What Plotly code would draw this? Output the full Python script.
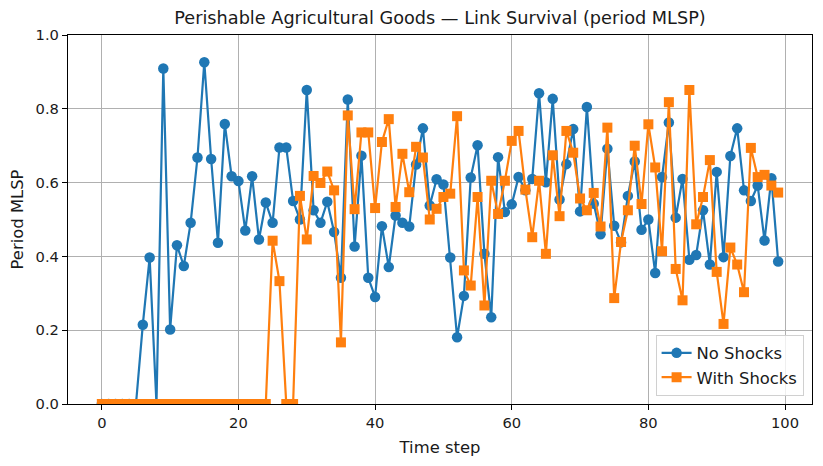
import plotly.graph_objects as go

steps = list(range(100))

no_shocks = [
    0, 0, 0, 0, 0, 0, 0.215, 0.397, 0, 0.909,
    0.202, 0.43, 0.374, 0.491, 0.668, 0.926, 0.664, 0.437, 0.759, 0.617,
    0.604, 0.47, 0.617, 0.446, 0.546, 0.491, 0.695, 0.695, 0.55, 0.50,
    0.851, 0.525, 0.491, 0.548, 0.466, 0.342, 0.825, 0.427, 0.673, 0.342,
    0.29, 0.482, 0.371, 0.511, 0.491, 0.481, 0.649, 0.747, 0.538, 0.609,
    0.595, 0.397, 0.181, 0.293, 0.614, 0.701, 0.407, 0.235, 0.669, 0.52,
    0.541, 0.615, 0.579, 0.61, 0.842, 0.601, 0.827, 0.554, 0.65, 0.745,
    0.522, 0.805, 0.543, 0.46, 0.692, 0.483, 0.438, 0.564, 0.657, 0.472,
    0.50, 0.355, 0.615, 0.763, 0.505, 0.61, 0.391, 0.404, 0.525, 0.378,
    0.629, 0.398, 0.672, 0.747, 0.579, 0.55, 0.592, 0.443, 0.612, 0.386,
]

with_shocks = [
    0, 0, 0, 0, 0, 0, 0, 0, 0, 0,
    0, 0, 0, 0, 0, 0, 0, 0, 0, 0,
    0, 0, 0, 0, 0, 0.4425, 0.333, 0, 0, 0.564,
    0.446, 0.618, 0.599, 0.63, 0.579, 0.167, 0.782, 0.528, 0.736, 0.736,
    0.531, 0.71, 0.772, 0.534, 0.678, 0.574, 0.697, 0.668, 0.50, 0.529,
    0.561, 0.570, 0.78, 0.362, 0.321, 0.561, 0.267, 0.605, 0.515, 0.605,
    0.713, 0.74, 0.581, 0.452, 0.605, 0.407, 0.674, 0.509, 0.74, 0.681,
    0.557, 0.525, 0.572, 0.481, 0.749, 0.287, 0.439, 0.525, 0.70, 0.542,
    0.758, 0.641, 0.414, 0.818, 0.366, 0.281, 0.851, 0.487, 0.561, 0.661,
    0.358, 0.217, 0.424, 0.378, 0.303, 0.694, 0.615, 0.621, 0.592, 0.573,
]

x_ticks = [0, 20, 40, 60, 80, 100]
y_ticks = [0.0, 0.2, 0.4, 0.6, 0.8, 1.0]

FONT = "DejaVu Sans"
TXT = "#1a1a1a"
W, H = 815, 458

fig = go.Figure()
fig.add_trace(go.Scatter(
    x=steps, y=no_shocks, name="No Shocks", mode="lines+markers",
    line=dict(color="#1f77b4", width=2.2),
    marker=dict(symbol="circle", size=10.5, color="#1f77b4"),
))
fig.add_trace(go.Scatter(
    x=steps, y=with_shocks, name="With Shocks", mode="lines+markers",
    line=dict(color="#ff7f0e", width=2.2),
    marker=dict(symbol="square", size=10, color="#ff7f0e"),
))

axis_common = dict(
    showline=True, linecolor="black", linewidth=1.2, mirror=True,
    showgrid=True, gridcolor="#b0b0b0", gridwidth=1,
    ticks="outside", ticklen=5, tickwidth=1.2, tickcolor="black",
    zeroline=False, automargin=False,
    tickfont=dict(family=FONT, size=14.7, color=TXT),
)

fig.update_layout(
    width=W, height=H,
    margin=dict(l=60, r=11, t=27, b=62),
    paper_bgcolor="white", plot_bgcolor="white",
    font=dict(family=FONT, size=14.7, color=TXT),
    title=dict(
        text="Perishable Agricultural Goods — Link Survival (period MLSP)",
        x=0.5, xref="paper", xanchor="center",
        y=1 - 10 / H, yref="container", yanchor="middle",
        font=dict(family=FONT, size=17.7, color=TXT),
    ),
    xaxis=dict(
        range=[-4.95, 103.95], tickvals=x_ticks,
        title=dict(text="Time step", standoff=11, font=dict(family=FONT, size=16.4, color=TXT)),
        **axis_common,
    ),
    yaxis=dict(
        range=[0, 1], tickvals=y_ticks, tickformat=".1f",
        title=dict(text="Period MLSP", standoff=13, font=dict(family=FONT, size=16.4, color=TXT)),
        **axis_common,
    ),
    legend=dict(
        x=0.9887, y=0.0225, xanchor="right", yanchor="bottom",
        bgcolor="rgba(255,255,255,0.8)", bordercolor="#d0d0d0", borderwidth=1,
        font=dict(family=FONT, size=16.4, color=TXT),
    ),
    showlegend=True,
)

fig.write_html("out.html")
